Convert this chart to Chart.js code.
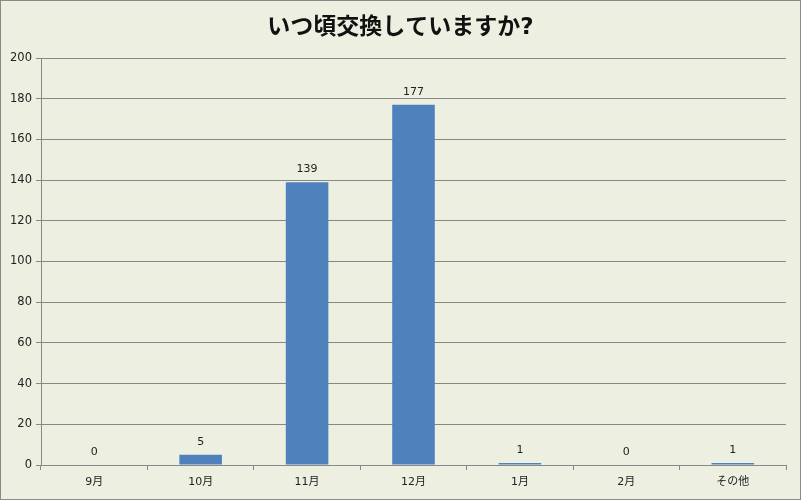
<!DOCTYPE html>
<html>
<head>
<meta charset="utf-8">
<script src="https://cdn.jsdelivr.net/npm/chart.js@4"></script>
<style>
html,body{margin:0;padding:0;background:#EDF0E0;}
#wrap{width:801px;height:500px;position:relative;}
canvas{display:block;}
</style>
</head>
<body>
<div id="wrap"><canvas id="c" width="801" height="500"></canvas></div>
<script>
const titleText = 'いつ頃交換していますか?';
const categories = ['9月','10月','11月','12月','1月','2月','その他'];
const counts = [0,5,139,177,1,0,1];
const yTicks = [0,20,40,60,80,100,120,140,160,180,200];

const FONT = '"DejaVu Sans", "Noto Sans CJK JP", sans-serif';

const bgPlugin = {
  id: 'bg',
  beforeDraw(chart) {
    const ctx = chart.ctx;
    ctx.save();
    ctx.fillStyle = '#EDF0E0';
    ctx.fillRect(0, 0, chart.width, chart.height);
    ctx.restore();
  },
  afterDraw(chart) {
    const ctx = chart.ctx;
    ctx.save();
    ctx.fillStyle = '#111';
    ctx.font = 'bold 23px ' + FONT;
    ctx.textAlign = 'center';
    ctx.textBaseline = 'middle';
    ctx.fillText(titleText, chart.width / 2, 28);
    ctx.strokeStyle = '#8A8A8A';
    ctx.lineWidth = 1;
    ctx.strokeRect(0.5, 0.5, chart.width - 1, chart.height - 1);
    ctx.restore();
  }
};

const labelPlugin = {
  id: 'vals',
  afterDatasetsDraw(chart) {
    const ctx = chart.ctx;
    const meta = chart.getDatasetMeta(0);
    ctx.save();
    ctx.fillStyle = '#222';
    ctx.font = '11px ' + FONT;
    ctx.textAlign = 'center';
    ctx.textBaseline = 'middle';
    meta.data.forEach((bar, i) => {
      ctx.fillText(String(counts[i]), bar.x, bar.y - 13);
    });
    ctx.restore();
  }
};

new Chart(document.getElementById('c'), {
  type: 'bar',
  data: {
    labels: categories,
    datasets: [{
      data: counts,
      backgroundColor: '#4F81BD',
      borderWidth: 0,
      barPercentage: 0.4,
      categoryPercentage: 1.0
    }]
  },
  options: {
    responsive: false,
    animation: false,
    devicePixelRatio: 1,
    layout: { padding: { left: 0, right: 15, top: 58, bottom: 0 } },
    plugins: {
      legend: { display: false },
      tooltip: { enabled: false },
      title: { display: false }
    },
    scales: {
      x: {
        grid: {
          display: true,
          drawOnChartArea: false,
          drawTicks: true,
          tickLength: 5,
          color: '#888',
          offset: true
        },
        border: { display: true, color: '#888', width: 1 },
        ticks: { color: '#222', font: { family: FONT, size: 11 }, padding: 6, maxRotation: 0 },
        afterFit(scale) { scale.height = 35; }
      },
      y: {
        min: 0,
        max: 200,
        afterBuildTicks(scale) { scale.ticks = yTicks.map(v => ({ value: v })); },
        grid: { color: '#888', tickLength: 5, drawTicks: true },
        border: { display: true, color: '#888', width: 1 },
        ticks: { color: '#222', font: { family: FONT, size: 11.5 }, padding: 4 },
        afterFit(scale) { scale.width = 41; }
      }
    }
  },
  plugins: [bgPlugin, labelPlugin]
});
</script>
</body>
</html>
